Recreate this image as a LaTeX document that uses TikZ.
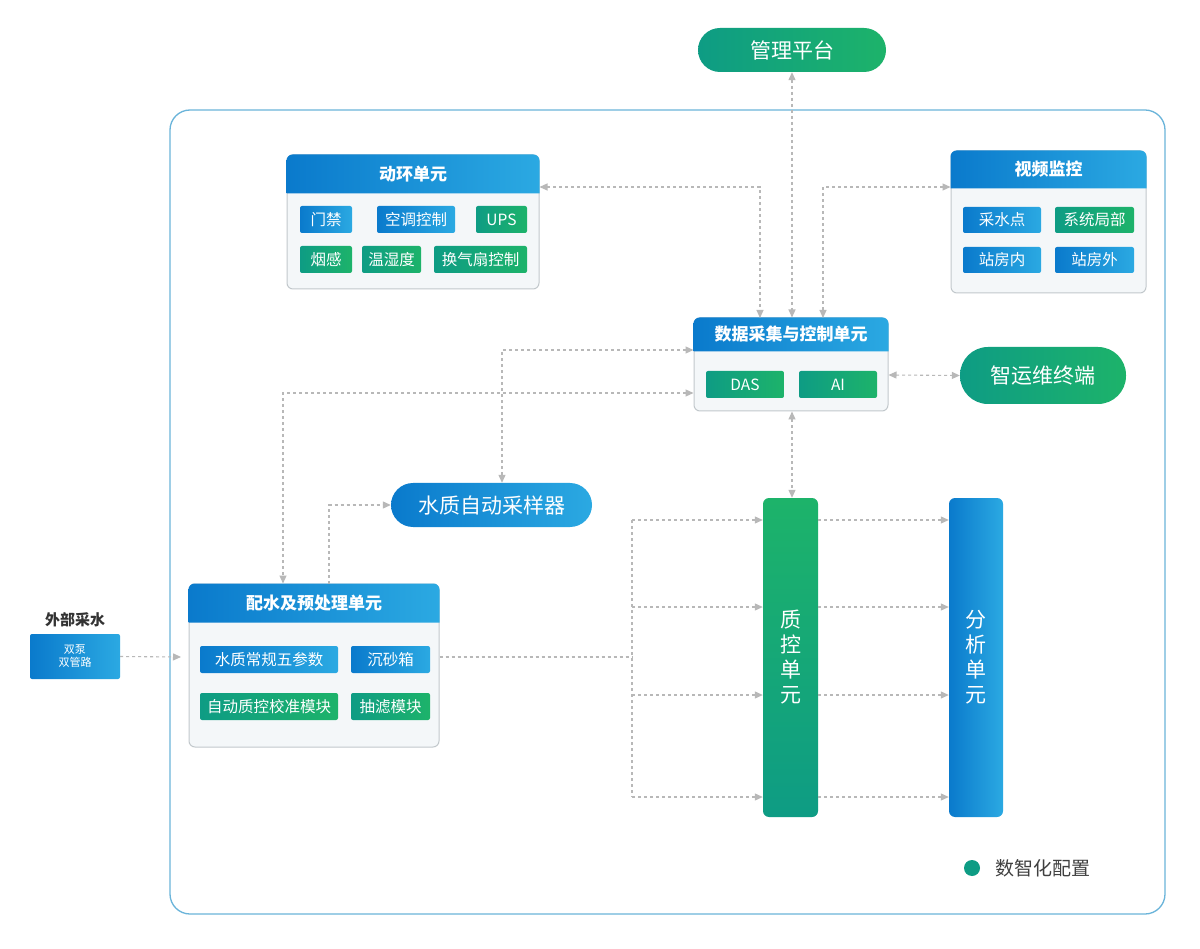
\documentclass[tikz,border=0pt]{standalone}
\usepackage{fontspec}
\setmainfont{Noto Sans CJK SC}
\usetikzlibrary{arrows.meta,calc}
\definecolor{bA}{HTML}{0A7ACC}
\definecolor{bB}{HTML}{2BA9E2}
\definecolor{gA}{HTML}{0E9C84}
\definecolor{gB}{HTML}{1DB36A}
\definecolor{frame}{HTML}{6AB4DA}
\definecolor{bodyc}{HTML}{F4F7F9}
\definecolor{edgec}{HTML}{C2C8CC}
\definecolor{conn}{HTML}{B8B8B8}
\tikzset{
  x=1pt,y=-1pt,
  blueitem/.style={rectangle,rounded corners=2pt,left color=bA,right color=bB,text=white,font=\fontsize{15.5}{17}\selectfont,inner sep=0pt},
  greenitem/.style={rectangle,rounded corners=2pt,left color=gA,right color=gB,text=white,font=\fontsize{15.5}{17}\selectfont,inner sep=0pt},
  pillg/.style={rectangle,rounded corners=22pt,left color=gA,right color=gB,text=white,font=\fontsize{21}{23}\selectfont,inner sep=0pt},
  pillb/.style={rectangle,rounded corners=22pt,left color=bA,right color=bB,text=white,font=\fontsize{21}{23}\selectfont,inner sep=0pt},
  body/.style={rectangle,rounded corners=6pt,fill=bodyc,draw=edgec,line width=1pt,inner sep=0pt},
  conn/.style={draw=conn,line width=1.1pt,dash pattern=on 3pt off 3pt},
  arr/.style={conn,-{Triangle[length=8pt,width=7pt]}},
  arrs/.style={conn,{Triangle[length=8pt,width=7pt]}-{Triangle[length=8pt,width=7pt]}},
  htext/.style={text=white,font=\fontsize{17}{19}\selectfont\bfseries},
}
\newcommand\unitbox[7]{%
  \node[body,minimum width=#4,minimum height=#5] (#1) at (#2,#3) {};
  \shade[left color=bA,right color=bB,rounded corners=6pt] ($(#1.north west)+(0,#6)$) -- (#1.north west) -- (#1.north east) [sharp corners] -- ($(#1.north east)+(0,#6)$) -- cycle;
  \node[htext] (#1-t) at ($(#1.north)+(0,#6/2)$) {#7};
}
\begin{document}
\begin{tikzpicture}
\useasboundingbox (0,0) rectangle (1200,949);
\fill[white] (0,0) rectangle (1200,949);
\draw[frame,line width=1.3pt,rounded corners=20pt] (170,110) rectangle (1165,914);
\node[pillg,minimum width=188,minimum height=44] (mgmt) at (792,50) {管理平台};
\unitbox{dh}{413}{222}{252}{134}{39}{动环单元}
\node[blueitem,minimum width=52,minimum height=27] (d1) at (326,219.5) {门禁};
\node[blueitem,minimum width=78,minimum height=27] (d2) at (416,219.5) {空调控制};
\node[greenitem,minimum width=51,minimum height=27] (d3) at (501.5,219.5) {UPS};
\node[greenitem,minimum width=52,minimum height=27] (d4) at (326,259.5) {烟感};
\node[greenitem,minimum width=59,minimum height=27] (d5) at (391.5,259.5) {温湿度};
\node[greenitem,minimum width=93,minimum height=27] (d6) at (480.5,259.5) {换气扇控制};
\unitbox{sp}{1048.5}{222}{195}{142}{38}{视频监控}
\node[blueitem,minimum width=78,minimum height=26] (s1) at (1002,220) {采水点};
\node[greenitem,minimum width=79,minimum height=26] (s2) at (1094.5,220) {系统局部};
\node[blueitem,minimum width=78,minimum height=26] (s3) at (1002,260) {站房内};
\node[blueitem,minimum width=79,minimum height=26] (s4) at (1094.5,260) {站房外};
\unitbox{da}{791}{364.5}{194}{93}{34}{数据采集与控制单元}
\node[greenitem,minimum width=78,minimum height=27] (das) at (745,384.5) {DAS};
\node[greenitem,minimum width=78,minimum height=27] (ai) at (838,384.5) {AI};
\node[pillg,rounded corners=28pt,minimum width=166,minimum height=57] (zy) at (1043,375.5) {智运维终端};
\node[pillb,minimum width=201,minimum height=44] (cy) at (491.5,505) {水质自动采样器};
\unitbox{ps}{314}{665.5}{250}{163}{39}{配水及预处理单元}
\node[blueitem,minimum width=138,minimum height=27] (p1) at (269,659.5) {水质常规五参数};
\node[blueitem,minimum width=79,minimum height=27] (p2) at (390.5,659.5) {沉砂箱};
\node[greenitem,minimum width=138,minimum height=27] (p3) at (269,706.5) {自动质控校准模块};
\node[greenitem,minimum width=79,minimum height=27] (p4) at (390.5,706.5) {抽滤模块};
\node[font=\fontsize{15}{17}\selectfont\bfseries,text=black!80] (wbl) at (75,620) {外部采水};
\node[blueitem,minimum width=90,minimum height=45,align=center,font=\fontsize{11}{13}\selectfont] (wb) at (75,656.5) {双泵\\双管路};
\node[rectangle,rounded corners=6pt,top color=gB,bottom color=gA,minimum width=55,minimum height=319,inner sep=0pt,text=white,align=center,font=\fontsize{21}{25}\selectfont] (zk) at (790.5,657.5) {质\\控\\单\\元};
\node[rectangle,rounded corners=6pt,left color=bA,right color=bB,minimum width=54,minimum height=319,inner sep=0pt,text=white,align=center,font=\fontsize{21}{25}\selectfont] (fx) at (976,657.5) {分\\析\\单\\元};
\fill[gA] (972,868) circle (8);
\node[anchor=west,font=\fontsize{19}{21}\selectfont,text=black!75] (lg) at (992,868) {数智化配置};
\draw[arrs] (mgmt.south) -- (mgmt.south |- da.north);
\draw[arrs] (dh.east |- 0,187) -- (760,187) -- (760,318);
\draw[arrs] (sp.west |- 0,187) -- (823,187) -- (823,318);
\draw[arrs] (da.east |- 0,375) -- (zy.west);
\draw[arrs] (da.west |- 0,350) -- (502,350) -- (cy.north -| 502,0);
\draw[arrs] (da.west |- 0,393) -- (283,393) -- (ps.north -| 283,0);
\draw[arr] (ps.north -| 329,0) -- (329,505) -- (cy.west);
\draw[arrs] (da.south -| 792,0) -- (zk.north -| 792,0);
\coordinate (ein) at (181,657);
\draw[arr] (wb.east) -- (ein);
\coordinate (jn) at (632,657);
\draw[conn] (ps.east |- 0,657) -- (jn);
\draw[conn] (632,520) -- (632,797);
\foreach \y in {520,607,695,797}{
  \draw[arr] (632,\y) -- (zk.west |- 0,\y);
  \draw[arr] (zk.east |- 0,\y) -- (fx.west |- 0,\y);
}
\end{tikzpicture}
\end{document}
